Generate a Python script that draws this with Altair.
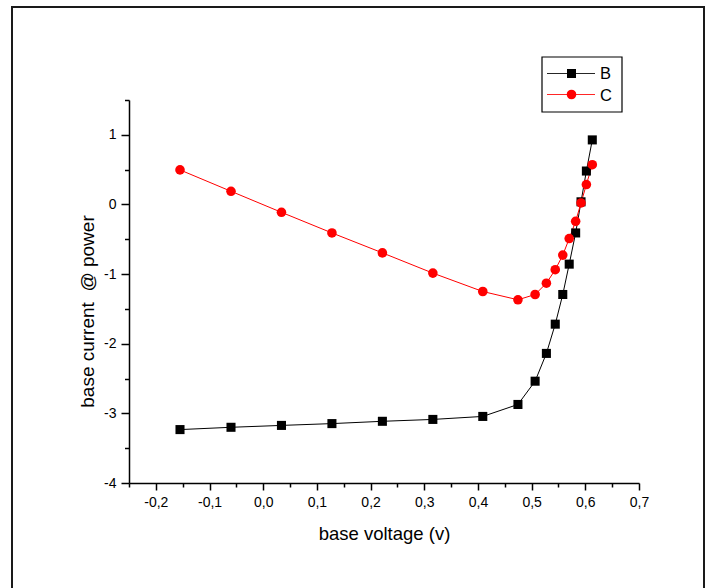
import altair as alt
import pandas as pd

# ---------------- data ----------------
series_names = ["B", "C"]
series_colors = ["black", "red"]
series_shapes = ["square", "circle"]
series_sizes = [82, 92]

voltage = [-0.155, -0.060, 0.034, 0.128, 0.222, 0.316, 0.409, 0.4745, 0.5065,
           0.5275, 0.544, 0.558, 0.570, 0.582, 0.592, 0.602, 0.613]
current_b = [-3.233, -3.200, -3.173, -3.147, -3.114, -3.087, -3.044, -2.872, -2.538,
             -2.139, -1.719, -1.293, -0.857, -0.409, 0.038, 0.480, 0.927]
current_c = [0.496, 0.189, -0.113, -0.409, -0.695, -0.986, -1.250, -1.369, -1.293,
             -1.131, -0.937, -0.727, -0.490, -0.242, 0.022, 0.286, 0.571]

x_major = [-0.2, -0.1, 0.0, 0.1, 0.2, 0.3, 0.4, 0.5, 0.6, 0.7]
x_minor = [-0.25, -0.15, -0.05, 0.05, 0.15, 0.25, 0.35, 0.45, 0.55, 0.65]
y_major = [-4, -3, -2, -1, 0, 1]
y_minor = [-3.5, -2.5, -1.5, -0.5, 0.5, 1.5]

x_title = "base voltage (v)"
y_title = "base current \u00a0@ power"

df = pd.DataFrame({
    "voltage": voltage * 2,
    "current": current_b + current_c,
    "series": [series_names[0]] * len(voltage) + [series_names[1]] * len(voltage),
})

# ---------------- layout ----------------
W, H = 510, 383
FONT = "Liberation Sans"

xscale = alt.Scale(domain=[-0.25, 0.7], nice=False, zero=False)
yscale = alt.Scale(domain=[-4, 1.5], nice=False, zero=False)
color_scale = alt.Scale(domain=series_names, range=series_colors)
shape_scale = alt.Scale(domain=series_names, range=series_shapes)
size_scale = alt.Scale(domain=series_names, range=series_sizes)

x_label_expr = "(datum.value < -0.0001 ? '-' : '') + replace(format(abs(datum.value), '.1f'), '.', ',')"
y_label_expr = "(datum.value < 0 ? '-' : '') + format(abs(datum.value), 'd')"

common_axis = dict(tickColor="black", tickWidth=1.5, grid=False,
                   labelFont=FONT, labelColor="black", labelFontSize=14,
                   titleFont=FONT, titleColor="black", titleFontWeight="normal")

x_axis_major = alt.Axis(values=x_major, orient="bottom", tickSize=7,
                        domainColor="black", domainWidth=1.5,
                        labelExpr=x_label_expr, labelPadding=5, labelFlush=False,
                        labelOverlap=False, title=x_title, titleFontSize=18.5,
                        titleY=56, titleBaseline="alphabetic", **common_axis)
y_axis_major = alt.Axis(values=y_major, orient="left", tickSize=8,
                        domainColor="black", domainWidth=1.5,
                        labelExpr=y_label_expr, labelPadding=5, labelFlush=False,
                        labelOverlap=False, title=y_title, titleFontSize=19,
                        titleX=-36, titleY=211, titleAngle=270,
                        titleBaseline="alphabetic", titleAlign="center", **common_axis)
x_axis_minor = alt.Axis(values=x_minor, orient="bottom", tickSize=4, domain=False,
                        labels=False, title="", **common_axis)
y_axis_minor = alt.Axis(values=y_minor, orient="left", tickSize=4.5, domain=False,
                        labels=False, title="", **common_axis)

one_row = pd.DataFrame({"k": [0]})

frame = alt.Chart(one_row).mark_rect(fillOpacity=0, stroke="#1a1a1a", strokeWidth=2).encode(
    x=alt.value(-117), x2=alt.value(575), y=alt.value(-93), y2=alt.value(700))

lines = alt.Chart(df).mark_line(strokeWidth=1).encode(
    x=alt.X("voltage:Q", scale=xscale, axis=None),
    y=alt.Y("current:Q", scale=yscale, axis=None),
    color=alt.Color("series:N", scale=color_scale, legend=None),
    detail="series:N",
)

points = alt.Chart(df).mark_point(filled=True, opacity=1).encode(
    x=alt.X("voltage:Q", scale=xscale, axis=x_axis_major),
    y=alt.Y("current:Q", scale=yscale, axis=y_axis_major),
    color=alt.Color("series:N", scale=color_scale, legend=None),
    shape=alt.Shape("series:N", scale=shape_scale, legend=None),
    size=alt.Size("series:N", scale=size_scale, legend=None),
)

minor = alt.Chart(df).mark_point(opacity=0).encode(
    x=alt.X("voltage:Q", scale=xscale, axis=x_axis_minor),
    y=alt.Y("current:Q", scale=yscale, axis=y_axis_minor),
)

# manual legend (box + line/marker samples + labels)
legend_box = alt.Chart(one_row).mark_rect(fill="white", stroke="black", strokeWidth=1.2).encode(
    x=alt.value(413), x2=alt.value(493), y=alt.value(-43), y2=alt.value(12))

legend_row_y = [-26.5, -5.5]
legend_text_y = [-20.6, 0.8]
legend_layers = []
for i, name in enumerate(series_names):
    row = pd.DataFrame({"name": [name]})
    legend_layers.append(
        alt.Chart(row).mark_rule(color=series_colors[i], strokeWidth=1, opacity=0.85).encode(
            x=alt.value(418), x2=alt.value(466), y=alt.value(legend_row_y[i])))
    legend_layers.append(
        alt.Chart(row).mark_point(shape=series_shapes[i], filled=True, opacity=1,
                                  color=series_colors[i], size=series_sizes[i]).encode(
            x=alt.value(442.5), y=alt.value(legend_row_y[i])))
    legend_layers.append(
        alt.Chart(row).mark_text(align="left", baseline="alphabetic", font=FONT,
                                 fontSize=16.5, color="black").encode(
            x=alt.value(471), y=alt.value(legend_text_y[i]), text="name:N"))

chart = alt.layer(frame, lines, points, minor, legend_box, *legend_layers).resolve_axis(
    x="independent", y="independent"
).properties(
    width=W, height=H,
    autosize=alt.AutoSizeParams(type="none"),
    padding={"left": 129, "top": 100, "right": 70, "bottom": 105},
    background="white",
).configure_view(stroke=None)

chart.save("out.html", embed_options={"renderer": "svg", "actions": False})
